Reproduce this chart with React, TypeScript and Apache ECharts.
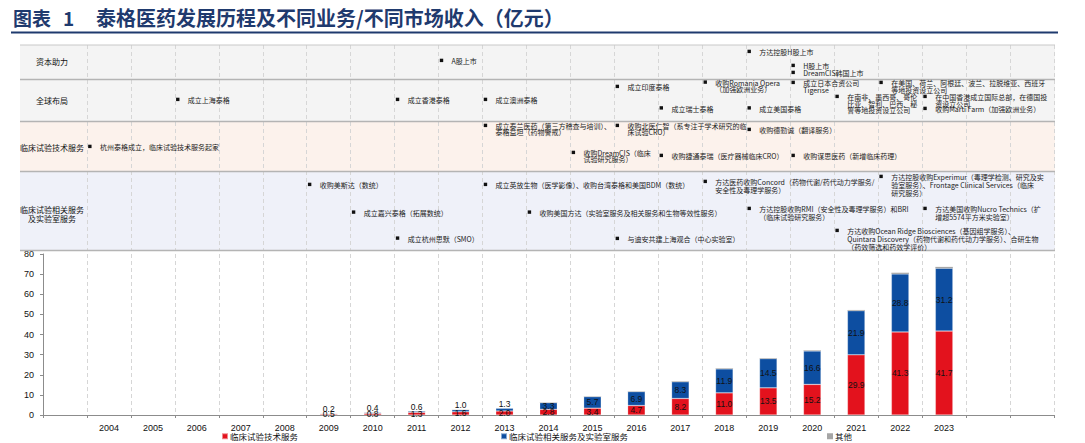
import React, { useEffect, useRef } from 'react';
import * as echarts from 'echarts';

// ---------- data ----------
const YEARS = ['2004','2005','2006','2007','2008','2009','2010','2011','2012','2013','2014','2015','2016','2017','2018','2019','2020','2021','2022','2023'];
const CATEGORIES = ['', ...YEARS, '', ''];
const SERIES_NAMES = ['临床试验技术服务', '临床试验相关服务及实验室服务', '其他'];
const TECH_REV = [null,null,null,null,null,0.5,0.8,1.3,1.6,2.0,2.8,3.4,4.7,8.2,11.0,13.5,15.2,29.9,41.3,41.7];
const LAB_REV = [null,null,null,null,null,0.2,0.4,0.6,1.0,1.3,3.3,5.7,6.9,8.3,11.9,14.5,16.6,21.9,28.8,31.2];
const OTHER_REV = [null,null,null,null,null,0.05,0.05,0.1,0.1,0.1,0.2,0.2,0.2,0.3,0.3,0.3,0.3,0.4,0.6,0.7];
const Y_MIN = 0, Y_MAX = 80, Y_STEP = 10;

const TITLE_TAG = '图表';
const TITLE_NUM = '1';
const TITLE_TEXT = '泰格医药发展历程及不同业务/不同市场收入（亿元）';
const ROW_LABELS = ['资本助力', '全球布局', '临床试验技术服务', '临床试验相关服务\n及实验室服务'];

const CAPITAL_EVENTS = [
  { year: '2012', lines: ['A股上市'] },
  { year: '2019', lines: ['方达控股H股上市'] },
  { year: '2020', lines: ['H股上市'] },
  { year: '2020', lines: ['DreamCIS韩国上市'] },
];
const GLOBAL_EVENTS = [
  { year: '2006', lines: ['成立上海泰格'] },
  { year: '2011', lines: ['成立香港泰格'] },
  { year: '2013', lines: ['成立澳洲泰格'] },
  { year: '2016', lines: ['成立印度泰格'] },
  { year: '2017', lines: ['成立瑞士泰格'] },
  { year: '2018', lines: ['收购Romania Opera', '（加强欧洲业务）'] },
  { year: '2019', lines: ['成立美国泰格'] },
  { year: '2020', lines: ['成立日本合资公司', 'Tigerise'] },
  { year: '2021', lines: ['在南非、墨西哥、哥伦', '比亚、智利、巴西、秘', '鲁等地投资设立公司'] },
  { year: '2022', lines: ['在美国、荷兰、阿根廷、波兰、拉脱维亚、西班牙', '等地投资设立公司'] },
  { year: '2023', lines: ['在中国香港成立国际总部，在德国投', '资设立公司'] },
  { year: '2023', lines: ['收购Martí Farm（加强欧洲业务）'] },
];
const TECH_EVENTS = [
  { year: '2004', lines: ['杭州泰格成立，临床试验技术服务起家'] },
  { year: '2013', lines: ['成立泰兰医药（第三方稽查与培训）、', '泰格益坦（药物警戒）'] },
  { year: '2016', lines: ['收购北医仁智（系专注于学术研究的临', '床试验CRO）'] },
  { year: '2019', lines: ['收购德勤诚（翻译服务）'] },
  { year: '2015', lines: ['收购DreamCIS（临床', '试验研究服务）'] },
  { year: '2017', lines: ['收购捷通泰瑞（医疗器械临床CRO）'] },
  { year: '2020', lines: ['收购谋思医药（新增临床药理）'] },
];
const LAB_EVENTS = [
  { year: '2009', lines: ['收购美斯达（数统）'] },
  { year: '2010', lines: ['成立嘉兴泰格（拓展数统）'] },
  { year: '2011', lines: ['成立杭州思默（SMO）'] },
  { year: '2013', lines: ['成立英放生物（医学影像）、收购台湾泰格和美国BDM（数统）'] },
  { year: '2014', lines: ['收购美国方达（实验室服务及相关服务和生物等效性服务）'] },
  { year: '2016', lines: ['与迪安共建上海观合（中心实验室）'] },
  { year: '2018', lines: ['方达医药收购Concord（药物代谢/药代动力学服务/', '安全性及毒理学服务）'] },
  { year: '2019', lines: ['方达控股收购RMI（安全性及毒理学服务）和BRI', '（临床试验研究服务）'] },
  { year: '2021', lines: ['方达收购Ocean Ridge Biosciences（基因组学服务）、', 'Quintara Discovery（药物代谢和药代动力学服务）、合研生物', '（药效筛选和药效学评价）'] },
  { year: '2022', lines: ['方达控股收购Experimur（毒理学检测、研究及实', '验室服务）、Frontage Clinical Services（临床', '研究服务）'] },
  { year: '2023', lines: ['方达美国收购Nucro Technics（扩', '增超5574平方米实验室）'] },
];

// ---------- layout ----------
const W = 1085, H = 443;
const GRID_LEFT = 43, GRID_RIGHT_X = 1054;
const PLOT_TOP = 254, PLOT_BOTTOM = 415;
const CAT_W = (GRID_RIGHT_X - GRID_LEFT) / CATEGORIES.length;
const TABLE_LEFT = 20, TABLE_RIGHT = 1055;
const ROW_EDGES = [45, 79.5, 121.5, 171.5, 250.5];
const ROW_FILLS = ['#f4f4f4', '#f4f4f4', '#fcf2ec', '#eff1f9'];
const ROW_LABEL_Y = [61, 100, 147, 213.5];
const CAPITAL_Y = [61, 52, 66, 73];
const GLOBAL_Y = [100, 100, 100, 87, 108.5, 82.7, 108.5, 83, 97, 83, 97, 109];
const TECH_Y = [147, 126, 126, 130, 153, 156, 156];
const LAB_Y = [185, 212.7, 238.7, 185, 212.7, 239, 182, 209, 231, 177, 209];
const LEGEND_LEFT = [221, 500, 827];

const CJK = '"Noto Sans CJK SC", "Noto Sans", sans-serif';
const NUM = '"Liberation Sans", Arial, sans-serif';

function boundaryX(year: string) {
  return GRID_LEFT + (CATEGORIES.indexOf(year)) * CAT_W;
}

function eventGraphics(events: any[], ys: number[], lineH: number) {
  const out: any[] = [];
  events.forEach((ev, i) => {
    const bx = boundaryX(ev.year);
    const y = ys[i];
    out.push({
      type: 'rect', z: 20, silent: true,
      shape: { x: bx + 1.2, y: y - 2.3, width: 3.4, height: 3.4 },
      style: { fill: '#111' },
    });
    out.push({
      type: 'text', z: 20, silent: true,
      x: bx + 13, y: y - lineH / 2,
      style: {
        text: ev.lines.join('\n'), fontSize: 7, lineHeight: lineH,
        fill: '#1a1a1a', fontFamily: CJK, verticalAlign: 'top', align: 'left',
      },
    });
  });
  return out;
}

function pad(arr: (number | null)[]) {
  return [null, ...arr, null, null];
}

export default function App() {
  const ref = useRef<HTMLDivElement>(null);
  useEffect(() => {
    if (!ref.current) return;
    const chart = echarts.init(ref.current, undefined, { renderer: 'svg', width: W, height: H });

    const graphics: any[] = [];
    // title
    graphics.push({ type: 'text', x: 13, y: 17, style: { text: TITLE_TAG, fontSize: 19, fontWeight: 'bold', fill: '#1f3a6e', fontFamily: CJK, verticalAlign: 'middle' } });
    graphics.push({ type: 'text', x: 63, y: 17, style: { text: TITLE_NUM, fontSize: 19, fontWeight: 'bold', fill: '#1f3a6e', fontFamily: CJK, verticalAlign: 'middle' } });
    graphics.push({ type: 'text', x: 96, y: 17, style: { text: TITLE_TEXT, fontSize: 20, fontWeight: 'bold', fill: '#1f3a6e', fontFamily: CJK, verticalAlign: 'middle' } });
    graphics.push({ type: 'line', shape: { x1: 11, y1: 32.5, x2: 1058, y2: 32.5 }, style: { stroke: '#1f3a6e', lineWidth: 2 } });
    // table rows
    ROW_FILLS.forEach((fill, i) => {
      graphics.push({ type: 'rect', z: 1, silent: true, shape: { x: TABLE_LEFT, y: ROW_EDGES[i], width: TABLE_RIGHT - TABLE_LEFT, height: ROW_EDGES[i + 1] - ROW_EDGES[i] }, style: { fill } });
    });
    ROW_EDGES.forEach((y, i) => {
      graphics.push({ type: 'line', z: 10, silent: true, shape: { x1: TABLE_LEFT, y1: y, x2: TABLE_RIGHT, y2: y }, style: { stroke: i === 0 ? '#c8c8c8' : '#b4b4b4', lineWidth: i === 0 ? 1 : 1.5 } });
    });
    ROW_LABELS.forEach((t, i) => {
      graphics.push({ type: 'text', z: 20, x: 52, y: ROW_LABEL_Y[i], style: { text: t, fontSize: 8, lineHeight: 9, fill: '#111', fontFamily: CJK, align: 'center', verticalAlign: 'middle' } });
    });
    graphics.push(...eventGraphics(CAPITAL_EVENTS, CAPITAL_Y, 7));
    graphics.push(...eventGraphics(GLOBAL_EVENTS, GLOBAL_Y, 6.5));
    graphics.push(...eventGraphics(TECH_EVENTS, TECH_Y, 6));
    graphics.push(...eventGraphics(LAB_EVENTS, LAB_Y, 8));

    const valueLabel = (p: any) => (p.value == null ? '' : Number(p.value).toFixed(1));

    const option: any = {
      animation: false,
      backgroundColor: '#ffffff',
      grid: [
        { left: GRID_LEFT, right: W - GRID_RIGHT_X, top: PLOT_TOP, bottom: H - PLOT_BOTTOM },
        { left: GRID_LEFT, right: W - GRID_RIGHT_X, top: ROW_EDGES[0], bottom: H - ROW_EDGES[4] },
      ],
      xAxis: [
        {
          type: 'category', gridIndex: 0, data: CATEGORIES, boundaryGap: true,
          axisLine: { lineStyle: { color: '#8c8c8c', width: 1 } },
          axisTick: { show: true, length: 3, lineStyle: { color: '#8c8c8c' } },
          axisLabel: { fontSize: 9, color: '#111', margin: 8, fontFamily: NUM, interval: 0 },
          splitLine: { show: true, lineStyle: { color: '#d6d6d6', type: [4, 3], width: 1 } },
        },
        {
          type: 'category', gridIndex: 1, data: CATEGORIES, boundaryGap: true, z: 5,
          axisLine: { show: false }, axisTick: { show: false }, axisLabel: { show: false },
          splitLine: { show: true, interval: (idx: number) => idx !== 0, lineStyle: { color: '#d6d6d6', type: [4, 3], width: 1 } },
        },
      ],
      yAxis: [
        {
          type: 'value', gridIndex: 0, min: Y_MIN, max: Y_MAX, interval: Y_STEP,
          axisLine: { show: true, lineStyle: { color: '#8c8c8c' } },
          axisTick: { show: true, length: 3, lineStyle: { color: '#8c8c8c' } },
          axisLabel: { fontSize: 9, color: '#111', margin: 9, fontFamily: NUM },
          splitLine: { show: false },
        },
        { type: 'value', gridIndex: 1, show: false, splitLine: { show: false } },
      ],
      legend: SERIES_NAMES.map((name, i) => ({
        data: [name], left: LEGEND_LEFT[i], top: 432, padding: 0,
        itemWidth: 6, itemHeight: 6, icon: 'rect', selectedMode: false,
        textStyle: { fontSize: 8.5, color: '#111', fontFamily: CJK, padding: [0, 0, 0, -3] },
      })),
      series: [
        {
          name: SERIES_NAMES[0], type: 'bar', stack: 'rev', barWidth: 17.5,
          data: pad(TECH_REV),
          itemStyle: { color: '#e3121d', borderColor: 'rgba(255,255,255,0.5)', borderWidth: 0.5 },
          label: { show: true, position: 'inside', fontSize: 8.5, color: '#111', fontFamily: NUM, formatter: valueLabel },
        },
        {
          name: SERIES_NAMES[1], type: 'bar', stack: 'rev', barWidth: 17.5,
          data: pad(LAB_REV).map((v) => (v == null ? null : { value: v, label: { position: v < 2 ? 'top' : 'inside', distance: 0 } })),
          itemStyle: { color: '#0d4ea1', borderColor: 'rgba(255,255,255,0.5)', borderWidth: 0.5 },
          label: { show: true, position: 'inside', fontSize: 8.5, color: '#111', fontFamily: NUM, formatter: valueLabel },
        },
        {
          name: SERIES_NAMES[2], type: 'bar', stack: 'rev', barWidth: 17.5,
          data: pad(OTHER_REV),
          itemStyle: { color: '#a6a6a6' },
          label: { show: false },
        },
      ],
      graphic: { elements: graphics },
    };
    chart.setOption(option);
    return () => chart.dispose();
  }, []);
  return <div ref={ref} style={{ position: 'fixed', left: 0, top: 0, width: W, height: H, background: '#fff' }} />;
}
